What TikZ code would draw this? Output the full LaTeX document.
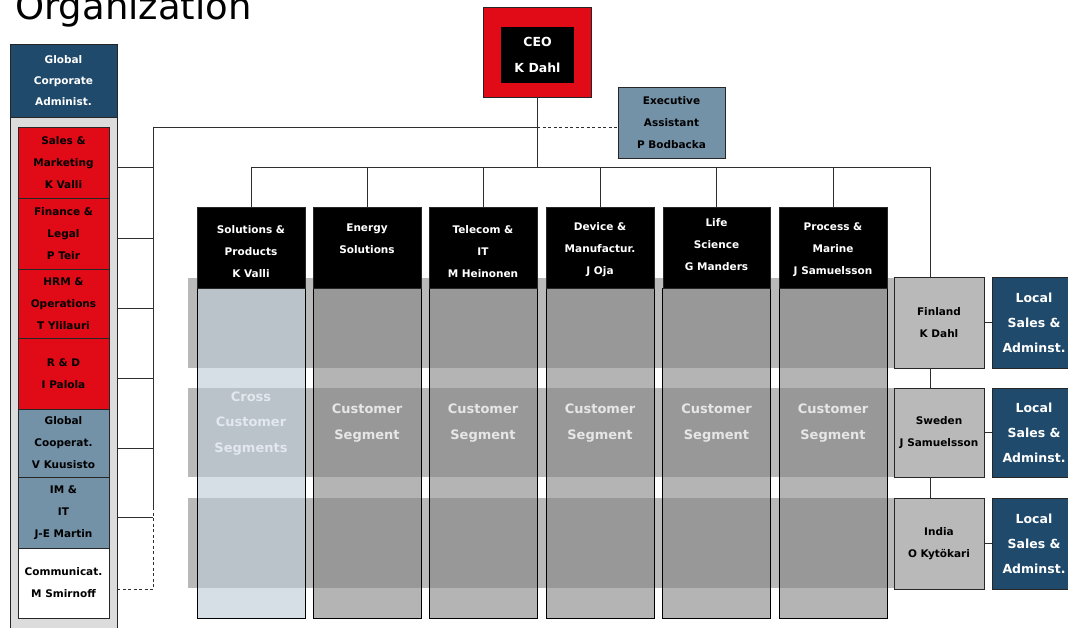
\documentclass[tikz,border=0pt]{standalone}
\usepackage{fontspec}
\setmainfont{DejaVu Sans}
\usetikzlibrary{calc}
\definecolor{corpred}{HTML}{E10A17}
\definecolor{corpblue}{HTML}{1F4A6B}
\definecolor{steel}{HTML}{7392A8}
\definecolor{panel}{HTML}{DCDCDC}
\definecolor{band}{HTML}{B9B9B9}
\definecolor{colgrey}{HTML}{828282}
\definecolor{colblue}{HTML}{BBC8D6}
\definecolor{edge}{HTML}{262626}
\definecolor{wire}{HTML}{2E2E2E}
\definecolor{segtext}{HTML}{E6E6E6}
\definecolor{crosstext}{HTML}{E2E8EE}
\begin{document}
\begin{tikzpicture}[x=1pt,y=-1pt,
  box/.style={draw=edge, line width=0.9pt, inner sep=0pt, align=center,
    font=\fontsize{10.5}{22}\selectfont\bfseries},
  redbox/.style={box, fill=corpred, minimum width=91, text=black},
  steelbox/.style={box, fill=steel, text=black},
  bluebox/.style={box, fill=corpblue, text=white},
  division/.style={box, fill=black, minimum width=108, minimum height=81},
  divtext/.style={inner sep=0pt, align=center, text=white,
    font=\fontsize{10.5}{22}\selectfont\bfseries},
  column/.style={draw=black, line width=0.9pt, fill=colgrey, fill opacity=0.6,
    minimum width=108, minimum height=330, inner sep=0pt},
  segment/.style={inner sep=0pt, align=center, text=segtext,
    font=\fontsize{13}{25.5}\selectfont\bfseries},
  country/.style={box, fill=band, minimum width=90, text=black},
  local/.style={box, fill=corpblue, text=white, minimum width=84,
    font=\fontsize{12.5}{25}\selectfont\bfseries},
  wireline/.style={draw=wire, line width=0.8pt},
  dotted link/.style={wireline, dash pattern=on 3pt off 2.5pt}
]
\useasboundingbox (0,0) rectangle (1068,628);
\clip (0,0) rectangle (1068,628);

% horizontal segment bands behind the columns
\fill[band] (188,278) rectangle (898,368);
\fill[band] (188,388) rectangle (898,477);
\fill[band] (188,498) rectangle (898,588);

% translucent column bodies
\node[column, fill=colblue] (c1) at (251,453) {};
\node[column] (c2) at (367,453) {};
\node[column] (c3) at (483,453) {};
\node[column] (c4) at (600,453) {};
\node[column] (c5) at (716.5,453) {};
\node[column] (c6) at (833,453) {};

\node[segment, text=crosstext] (s1) at (251,423.5) {Cross\\Customer\\Segments};
\node[segment] (s2) at (367,423) {Customer\\Segment};
\node[segment] (s3) at (483,423) {Customer\\Segment};
\node[segment] (s4) at (600,423) {Customer\\Segment};
\node[segment] (s5) at (716.5,423) {Customer\\Segment};
\node[segment] (s6) at (833,423) {Customer\\Segment};

% divisions
\node[division] (d1) at (251,247.5) {};
\node[division] (d2) at (367,247.5) {};
\node[division] (d3) at (483,247.5) {};
\node[division] (d4) at (600,247.5) {};
\node[division, minimum width=107] (d5) at (716.5,247.5) {};
\node[division] (d6) at (833,247.5) {};
\node[divtext] (d1t) at ($(d1.center)+(0,4.5)$) {Solutions \&\\Products\\K Valli};
\node[divtext] (d2t) at ($(d2.center)+(0,-8.5)$) {Energy\\Solutions};
\node[divtext] (d3t) at ($(d3.center)+(0,4.5)$) {Telecom \&\\IT\\M Heinonen};
\node[divtext] (d4t) at ($(d4.center)+(0,2.5)$) {Device \&\\Manufactur.\\J Oja};
\node[divtext] (d5t) at ($(d5.center)+(0,-2.5)$) {Life\\Science\\G Manders};
\node[divtext] (d6t) at ($(d6.center)+(0,2.5)$) {Process \&\\Marine\\J Samuelsson};

% countries and local administration
\node[country, minimum height=91] (fin) at (939,322.5) {Finland\\K Dahl};
\node[country, minimum height=89] (swe) at (939,432.5) {Sweden\\J Samuelsson};
\node[country, minimum height=91] (ind) at (939,543.5) {India\\O Kytökari};
\node[local, minimum height=91] (loc1) at (1034,322.5) {Local\\Sales \&\\Adminst.};
\node[local, minimum height=89] (loc2) at (1034,432.5) {Local\\Sales \&\\Adminst.};
\node[local, minimum height=91] (loc3) at (1034,543.5) {Local\\Sales \&\\Adminst.};

% group functions column
\node[bluebox, minimum width=107, minimum height=73,
  font=\fontsize{10.5}{21}\selectfont\bfseries] (gca) at (63.5,80.5)
  {Global\\Corporate\\Administ.};
\node[box, fill=panel, minimum width=107, minimum height=523] (cont) at (63.5,378.5) {};
\node[redbox, minimum height=71] (sm) at (63.5,162.5) {Sales \&\\Marketing\\K Valli};
\node[redbox, minimum height=71] (fl) at (63.5,233.5) {Finance \&\\Legal\\P Teir};
\node[redbox, minimum height=69] (hrm) at (63.5,303.5) {HRM \&\\Operations\\T Ylilauri};
\node[redbox, minimum height=71] (rd) at (63.5,373.5) {R \& D\\I Palola};
\node[steelbox, minimum width=91, minimum height=68] (gc) at (63.5,443) {Global\\Cooperat.\\V Kuusisto};
\node[steelbox, minimum width=91, minimum height=71] (imit) at (63.5,512.5) {IM \&\\IT\\J-E Martin};
\node[box, fill=white, minimum width=91, minimum height=70] (comm) at (63.5,583) {Communicat.\\M Smirnoff};

% chief executive
\node[box, fill=corpred, minimum width=108, minimum height=90] (ceo) at (537,52) {};
\node[box, draw=none, fill=black, text=white, minimum width=73, minimum height=56,
  font=\fontsize{12.5}{26}\selectfont\bfseries] (ceot) at (537.5,55) {CEO\\K Dahl};
\node[steelbox, minimum width=107, minimum height=71] (ea) at (671.5,122.5)
  {Executive\\Assistant\\P Bodbacka};

% reporting lines
\coordinate (lbusTop) at (153,127);
\coordinate (lbusMid) at (153,507);
\coordinate (lbusBot) at (153,589);
\coordinate (busL) at (251,167);
\coordinate (busR) at (930,167);

\draw[wireline] (ceo.south) -- (ceo.south |- busL);
\draw[wireline] (busL) -- (busR) -- (busR |- fin.north);
\foreach \d in {d1,d2,d3,d4,d5,d6}
  \draw[wireline] (\d.north |- busL) -- (\d.north);
\draw[wireline] (lbusTop) -- (ceo.south |- lbusTop);
\draw[dotted link] (ceo.south |- lbusTop) -- (ea.west |- lbusTop);
\draw[wireline] (lbusTop) -- (lbusMid);
\draw[dotted link] (lbusMid) -- (lbusBot);
\foreach \f in {sm,fl,hrm,rd,gc,imit}
  \draw[wireline] ($(cont.east |- \f.center)+(0,5)$) -- ($(lbusTop |- \f.center)+(0,5)$);
\draw[dotted link] (cont.east |- lbusBot) -- (lbusBot);

\draw[wireline] (busR |- fin.south) -- (busR |- swe.north);
\draw[wireline] (busR |- swe.south) -- (busR |- ind.north);
\draw[wireline] (fin.east) -- (loc1.west);
\draw[wireline] (swe.east) -- (loc2.west);
\draw[wireline] (ind.east) -- (loc3.west);

% heading
\node[anchor=base west, inner sep=0pt, font=\fontsize{37}{42}\selectfont] (title)
  at (15,20) {Organization};
\end{tikzpicture}
\end{document}
